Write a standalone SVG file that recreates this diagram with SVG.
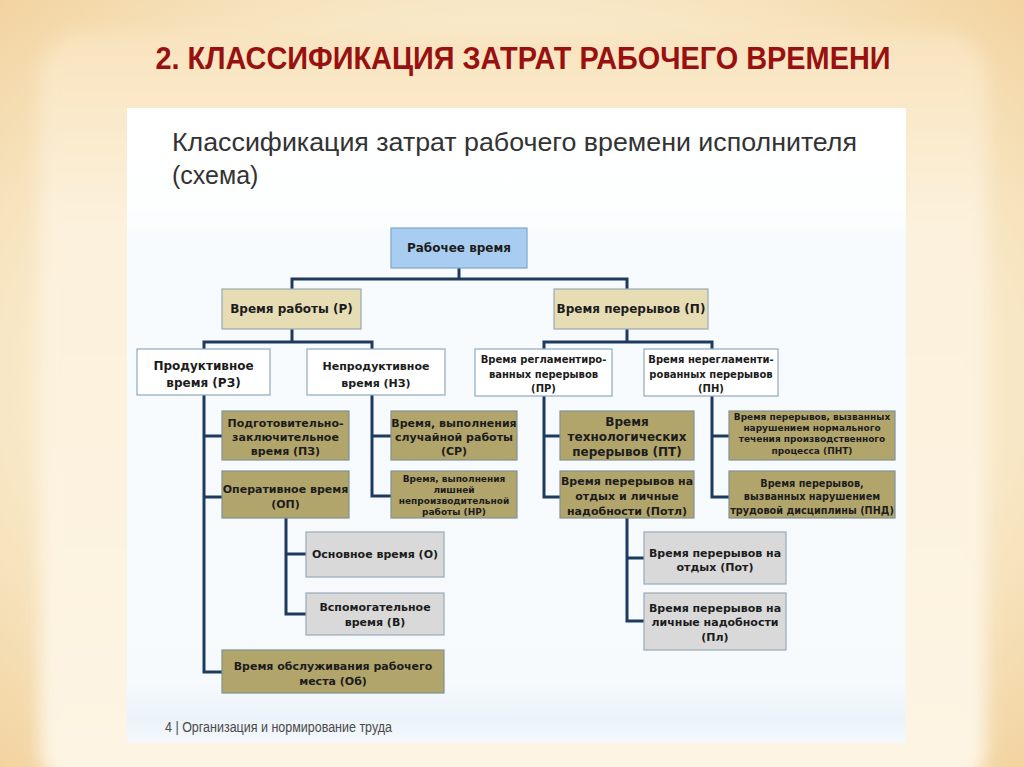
<svg xmlns="http://www.w3.org/2000/svg" width="1024" height="767" viewBox="0 0 1024 767">
<defs>
<radialGradient id="bg" cx="0.5" cy="0.5" r="0.75">
<stop offset="0" stop-color="#fdf6e6"/>
<stop offset="0.6" stop-color="#f9ebcd"/>
<stop offset="1" stop-color="#f1cf98"/>
</radialGradient>
<linearGradient id="panel" x1="0" y1="0" x2="0" y2="1">
<stop offset="0" stop-color="#f8e3bd"/>
<stop offset="0.25" stop-color="#fcf1dc"/>
<stop offset="1" stop-color="#fdf4e3"/>
</linearGradient>
<linearGradient id="white" x1="0" y1="0" x2="0" y2="1">
<stop offset="0" stop-color="#ffffff"/>
<stop offset="0.16" stop-color="#fdfefe"/>
<stop offset="0.2" stop-color="#f8fbfd"/>
<stop offset="0.9" stop-color="#f7fafd"/>
<stop offset="0.96" stop-color="#ebf3fa"/>
<stop offset="1" stop-color="#f4f8fb"/>
</linearGradient>
<filter id="soft" x="-5%" y="-5%" width="110%" height="110%"><feGaussianBlur stdDeviation="8"/></filter>
<style>
.t{font-family:"DejaVu Sans",Verdana,sans-serif;font-weight:bold;fill:#1c1c1c;text-anchor:middle}
.f12{font-size:12px}.f11{font-size:11px}.f10{font-size:10px}.f9{font-size:9px}.f98{font-size:9.7px}
.blue{fill:#a9cdf1;stroke:#7fa6c8;stroke-width:1.2}
.beige{fill:#e6ddb5;stroke:#97abb3;stroke-width:1.2}
.wht{fill:#ffffff;stroke:#8eaac0;stroke-width:1.2}
.olive{fill:#b2a56c;stroke:#7f9292;stroke-width:1.2}
.gray{fill:#d9d9d9;stroke:#98aab8;stroke-width:1.2}
.con{fill:none;stroke:#1f3a5f;stroke-width:3;stroke-linejoin:miter}
</style>
</defs>
<rect x="0" y="0" width="1024" height="767" fill="url(#bg)"/>
<rect x="40" y="33" width="946" height="760" rx="45" fill="url(#panel)" filter="url(#soft)"/>
<text x="523" y="69" font-family="'Liberation Sans Narrow','Liberation Sans',Arial,sans-serif" font-weight="bold" font-size="31" fill="#981010" text-anchor="middle" textLength="735" lengthAdjust="spacingAndGlyphs">2. КЛАССИФИКАЦИЯ ЗАТРАТ РАБОЧЕГО ВРЕМЕНИ</text>
<rect x="127" y="108" width="779" height="635" fill="url(#white)"/>
<text x="172" y="151" font-family="'Liberation Sans',Arial,sans-serif" font-size="25" fill="#333333" textLength="685" lengthAdjust="spacingAndGlyphs">Классификация затрат рабочего времени исполнителя</text>
<text x="172" y="184" font-family="'Liberation Sans',Arial,sans-serif" font-size="25" fill="#333333">(схема)</text>
<text x="165" y="732" font-family="'Liberation Sans',Arial,sans-serif" font-size="14" fill="#4a4a4a" textLength="227" lengthAdjust="spacingAndGlyphs">4  | Организация и нормирование труда</text>

<g id="connectors">
<path class="con" d="M459,268 V279 M290.5,279 H628.5 M292,279 V289 M627,279 V289"/>
<path class="con" d="M292,329 V342 M202.5,342 H373.5 M204,342 V349 M372,342 V349"/>
<path class="con" d="M627,329 V342 M542.5,342 H713.5 M544,342 V349 M712,342 V349"/>
<path class="con" d="M204,395 V672 H222 M204,436 H222 M204,497 H222"/>
<path class="con" d="M372,395 V496 H391 M372,436 H391"/>
<path class="con" d="M286,518 V614 H306 M286,554 H306"/>
<path class="con" d="M544,396 V497 H560 M544,436 H560"/>
<path class="con" d="M712,396 V497 H729 M712,436 H729"/>
<path class="con" d="M627,518 V621 H644 M627,558 H644"/>
</g>

<g id="n-rabochee"><rect class="blue" x="391" y="228" width="136" height="40"/><text class="t f12" x="459" y="252">Рабочее время</text></g>
<g id="n-r"><rect class="beige" x="222" y="289" width="139" height="40"/><text class="t f12" x="291.5" y="313">Время работы (Р)</text></g>
<g id="n-p"><rect class="beige" x="554" y="289" width="154" height="40"/><text class="t f12" x="631" y="313">Время перерывов (П)</text></g>
<g id="n-rz"><rect class="wht" x="137" y="349" width="133" height="46"/><text class="t f12" x="203.5" y="370">Продуктивное</text><text class="t f12" x="203.5" y="387">время (РЗ)</text></g>
<g id="n-nz"><rect class="wht" x="307" y="349" width="138" height="46"/><text class="t f11" x="376" y="370">Непродуктивное</text><text class="t f11" x="376" y="387">время (НЗ)</text></g>
<g id="n-pr"><rect class="wht" x="475" y="349" width="137" height="47"/><text class="t f10" x="543.5" y="363">Время регламентиро-</text><text class="t f10" x="543.5" y="378">ванных перерывов</text><text class="t f10" x="543.5" y="392">(ПР)</text></g>
<g id="n-pn"><rect class="wht" x="644" y="349" width="134" height="47"/><text class="t f10" x="711" y="363">Время нерегламенти-</text><text class="t f10" x="711" y="378">рованных перерывов</text><text class="t f10" x="711" y="392">(ПН)</text></g>
<g id="n-pz"><rect class="olive" x="222" y="411" width="127" height="49"/><text class="t f11" x="285.5" y="427">Подготовительно-</text><text class="t f11" x="285.5" y="441">заключительное</text><text class="t f11" x="285.5" y="455">время (ПЗ)</text></g>
<g id="n-op"><rect class="olive" x="222" y="471" width="127" height="47"/><text class="t f11" x="285.5" y="493">Оперативное время</text><text class="t f11" x="285.5" y="508">(ОП)</text></g>
<g id="n-sr"><rect class="olive" x="391" y="411" width="126" height="49"/><text class="t f11" x="454" y="427">Время, выполнения</text><text class="t f11" x="454" y="441">случайной работы</text><text class="t f11" x="454" y="455">(СР)</text></g>
<g id="n-nr"><rect class="olive" x="391" y="471" width="126" height="47"/><text class="t f9" x="454" y="482">Время, выполнения</text><text class="t f9" x="454" y="493">лишней</text><text class="t f9" x="454" y="504">непроизводительной</text><text class="t f9" x="454" y="515">работы (НР)</text></g>
<g id="n-pt"><rect class="olive" x="560" y="411" width="134" height="49"/><text class="t f12" x="627" y="426">Время</text><text class="t f12" x="627" y="441">технологических</text><text class="t f12" x="627" y="456">перерывов (ПТ)</text></g>
<g id="n-potl"><rect class="olive" x="560" y="471" width="134" height="47"/><text class="t f11" x="627" y="485">Время перерывов на</text><text class="t f11" x="627" y="500">отдых и личные</text><text class="t f11" x="627" y="515">надобности (Потл)</text></g>
<g id="n-pnt"><rect class="olive" x="729" y="411" width="166" height="49"/><text class="t f9" x="812" y="420">Время перерывов, вызванных</text><text class="t f9" x="812" y="431">нарушением нормального</text><text class="t f9" x="812" y="442">течения производственного</text><text class="t f9" x="812" y="454">процесса (ПНТ)</text></g>
<g id="n-pnd"><rect class="olive" x="729" y="471" width="166" height="47"/><text class="t f98" x="812" y="487">Время перерывов,</text><text class="t f98" x="812" y="500">вызванных нарушением</text><text class="t f98" x="812" y="514">трудовой дисциплины (ПНД)</text></g>
<g id="n-o"><rect class="gray" x="306" y="532" width="138" height="45"/><text class="t f11" x="375" y="558">Основное время (О)</text></g>
<g id="n-v"><rect class="gray" x="306" y="593" width="138" height="42"/><text class="t f11" x="375" y="611">Вспомогательное</text><text class="t f11" x="375" y="626">время (В)</text></g>
<g id="n-ob"><rect class="olive" x="222" y="650" width="222" height="43"/><text class="t f11" x="333" y="670">Время обслуживания рабочего</text><text class="t f11" x="333" y="685">места (Об)</text></g>
<g id="n-pot"><rect class="gray" x="644" y="532" width="142" height="52"/><text class="t f11" x="715" y="557">Время перерывов на</text><text class="t f11" x="715" y="571">отдых (Пот)</text></g>
<g id="n-pl"><rect class="gray" x="644" y="593" width="142" height="57"/><text class="t f11" x="715" y="612">Время перерывов на</text><text class="t f11" x="715" y="626">личные надобности</text><text class="t f11" x="715" y="641">(Пл)</text></g>
</svg>
